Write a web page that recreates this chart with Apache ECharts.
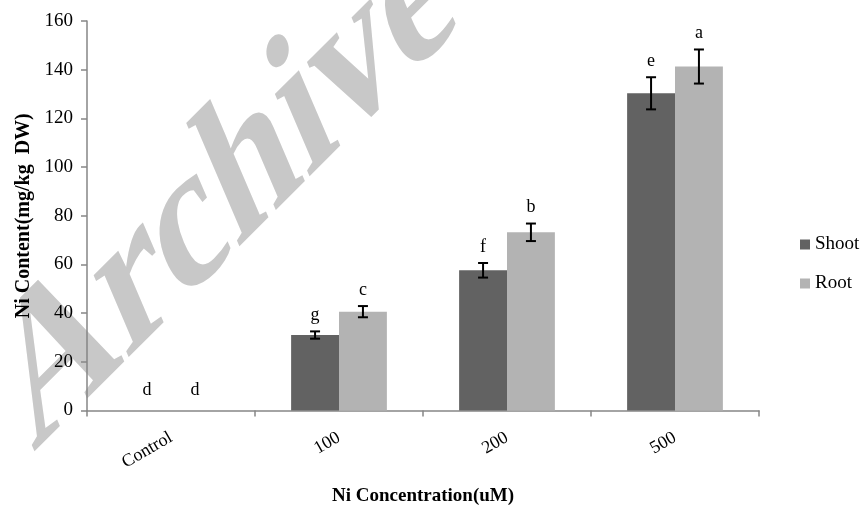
<!DOCTYPE html>
<html>
<head>
<meta charset="utf-8">
<script src="https://cdn.jsdelivr.net/npm/echarts@6/dist/echarts.min.js"></script>
<style>html,body{margin:0;padding:0;background:#fff}#c{width:865px;height:505px}</style>
</head>
<body>
<div id="c"></div>
<script>
const categories = ['Control', '100', '200', '500'];
const shootValues = [0, 31.0, 57.6, 130.3];
const rootValues = [0, 40.6, 73.2, 141.3];
const shootErrors = [0, 1.5, 3.0, 6.6];
const rootErrors = [0, 2.3, 3.6, 7.0];
const shootLetters = ['d', 'g', 'f', 'e'];
const rootLetters = ['d', 'c', 'b', 'a'];
const yTicks = [0, 20, 40, 60, 80, 100, 120, 140, 160];

const FONT = '"Liberation Serif", "Times New Roman", serif';
const BAR_FRAC = 0.285;

function errorSeries(values, errors, letters, side) {
  return {
    type: 'custom',
    z: 5,
    data: values.map((v, i) => [i, v, errors[i]]),
    renderItem: function (params, api) {
      const idx = api.value(0), v = api.value(1), e = api.value(2);
      const band = api.size([1, 0])[0];
      const base = api.coord([idx, v]);
      const cx = base[0] + side * band * BAR_FRAC / 2;
      const top = api.coord([idx, v + e])[1];
      const bot = api.coord([idx, v - e])[1];
      const cap = 5;
      const children = [];
      const ls = { stroke: '#000', lineWidth: 2 };
      if (e > 0) {
        children.push({ type: 'line', shape: { x1: cx, y1: top, x2: cx, y2: bot }, style: ls });
        children.push({ type: 'line', shape: { x1: cx - cap, y1: top, x2: cx + cap, y2: top }, style: ls });
        children.push({ type: 'line', shape: { x1: cx - cap, y1: bot, x2: cx + cap, y2: bot }, style: ls });
      }
      children.push({
        type: 'text',
        style: {
          text: letters[idx], x: cx, y: top - (e > 0 ? 16 : 20),
          align: 'center', verticalAlign: 'middle',
          fontFamily: FONT, fontSize: 18, fill: '#000'
        }
      });
      return { type: 'group', children: children };
    }
  };
}

const chart = echarts.init(document.getElementById('c'), null, { renderer: 'canvas' });
chart.setOption({
  animation: false,
  backgroundColor: '#fff',
  graphic: [{
    type: 'text',
    z: -10,
    x: 228, y: 192,
    rotation: 0.785,
    skewX: -0.38,
    style: {
      text: 'Archive',
      fontFamily: FONT,
      fontWeight: 'bold',
      fontSize: 180,
      fill: '#c8c8c8',
      align: 'center',
      verticalAlign: 'middle'
    }
  }],
  grid: { left: 87, right: 106, top: 21, bottom: 94.5, containLabel: false, outerBoundsMode: 'none' },
  legend: {
    data: ['Shoot', 'Root'],
    orient: 'vertical',
    left: 795, top: 230,
    itemWidth: 10, itemHeight: 10, itemGap: 20,
    icon: 'rect',
    textStyle: { fontFamily: FONT, fontSize: 19, color: '#000' }
  },
  xAxis: {
    type: 'category',
    data: categories,
    axisLine: { lineStyle: { color: '#868686', width: 1.5 } },
    axisTick: { show: true, length: 6, lineStyle: { color: '#868686', width: 1.5 } },
    axisLabel: { rotate: 30, margin: 26, fontFamily: FONT, fontSize: 18, color: '#000' },
    name: 'Ni Concentration(uM)',
    nameLocation: 'middle',
    nameGap: 76,
    nameTextStyle: { fontFamily: FONT, fontSize: 19, fontWeight: 'bold', color: '#000' }
  },
  yAxis: {
    type: 'value',
    min: 0, max: 160, interval: 20,
    axisLine: { show: true, lineStyle: { color: '#868686', width: 1.5 } },
    axisTick: { show: true, length: 6, lineStyle: { color: '#868686', width: 1.5 } },
    splitLine: { show: false },
    axisLabel: {
      margin: 14, fontFamily: FONT, fontSize: 19, color: '#000',
      formatter: function (v) { return yTicks.indexOf(v) >= 0 ? String(v) : ''; }
    },
    name: 'Ni Content(mg/kg  DW)',
    nameLocation: 'middle',
    nameGap: 53,
    nameTextStyle: { fontFamily: FONT, fontSize: 20, fontWeight: 'bold', color: '#000' }
  },
  series: [
    { name: 'Shoot', type: 'bar', data: shootValues, barWidth: (BAR_FRAC * 100) + '%', barGap: '0%',
      itemStyle: { color: '#626262' } },
    { name: 'Root', type: 'bar', data: rootValues, barWidth: (BAR_FRAC * 100) + '%', barGap: '0%',
      itemStyle: { color: '#b3b3b3' } },
    errorSeries(shootValues, shootErrors, shootLetters, -1),
    errorSeries(rootValues, rootErrors, rootLetters, 1)
  ]
});
</script>
</body>
</html>
